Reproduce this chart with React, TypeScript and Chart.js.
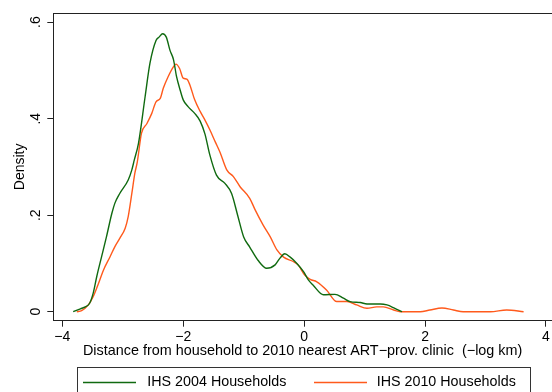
import React, { useEffect, useRef } from "react";
import { Chart, registerables } from "chart.js";

Chart.register(...registerables);

const FONT = '"Liberation Sans", Arial, Helvetica, sans-serif';

// IHS 2004 Households (green)
const x2004 = [
  -3.82, -3.7, -3.62, -3.55, -3.49, -3.43, -3.35, -3.27, -3.18, -3.13, -3.05, -2.91, -2.85, -2.81,
  -2.74, -2.63, -2.55, -2.45, -2.4, -2.34, -2.28, -2.22, -2.16, -2.11, -2.05, -2.0, -1.92, -1.81,
  -1.72, -1.64, -1.56, -1.45, -1.31, -1.2, -1.1, -1.0, -0.9, -0.76, -0.62, -0.48, -0.4, -0.32,
  -0.23, -0.12, -0.01, 0.07, 0.15, 0.32, 0.51, 0.65, 0.76, 0.93, 1.04, 1.26, 1.37, 1.5, 1.62,
];
const y2004 = [
  0, 0.006, 0.01, 0.017, 0.038, 0.073, 0.114, 0.155, 0.204, 0.225, 0.245, 0.273, 0.294, 0.314,
  0.349, 0.446, 0.515, 0.562, 0.569, 0.576, 0.569, 0.542, 0.522, 0.487, 0.459, 0.439, 0.425, 0.411,
  0.395, 0.368, 0.325, 0.283, 0.266, 0.245, 0.2, 0.155, 0.134, 0.106, 0.09, 0.097, 0.111, 0.12,
  0.113, 0.1, 0.083, 0.066, 0.055, 0.035, 0.036, 0.028, 0.021, 0.019, 0.016, 0.016, 0.014, 0.007, 0,
];

// IHS 2010 Households (orange)
const x2010 = [
  -3.76, -3.68, -3.57, -3.49, -3.4, -3.32, -3.21, -3.13, -3.05, -2.96, -2.91, -2.85, -2.8, -2.76,
  -2.69, -2.6, -2.52, -2.45, -2.38, -2.33, -2.25, -2.16, -2.12, -2.06, -2.0, -1.94, -1.89, -1.81,
  -1.72, -1.64, -1.56, -1.47, -1.39, -1.28, -1.17, -1.06, -0.9, -0.81, -0.68, -0.56, -0.45, -0.34,
  -0.18, -0.1, 0.01, 0.1, 0.21, 0.37, 0.54, 0.71, 0.87, 1.04, 1.2, 1.31, 1.48, 1.59, 1.92, 2.08,
  2.28, 2.47, 2.63, 3.08, 3.35, 3.63,
];
const y2010 = [
  0, 0.002, 0.014, 0.031, 0.059, 0.086, 0.114, 0.135, 0.152, 0.173, 0.197, 0.245, 0.287, 0.31,
  0.37, 0.39, 0.411, 0.435, 0.442, 0.463, 0.487, 0.508, 0.513, 0.504, 0.484, 0.482, 0.47, 0.439,
  0.415, 0.397, 0.377, 0.352, 0.33, 0.294, 0.28, 0.259, 0.235, 0.211, 0.18, 0.155, 0.128, 0.113,
  0.104, 0.097, 0.076, 0.067, 0.062, 0.045, 0.021, 0.021, 0.014, 0.007, 0.01, 0.01, 0.0035, 0, 0,
  0.0035, 0.0077, 0.0035, 0, 0, 0.0035, 0,
];

const xTicks = [-4, -2, 0, 2, 4];
const yTicks = [0, 0.2, 0.4, 0.6];
const yTickLabels = ["0", ".2", ".4", ".6"];
const seriesNames = ["IHS 2004 Households", "IHS 2010 Households"];
const xTitle = "Distance from household to 2010 nearest ART\u2212prov. clinic  (\u2212log km)";
const yTitle = "Density";

const GREEN = "#106a10";
const ORANGE = "#ff5a1c";

export default function App() {
  const ref = useRef<HTMLCanvasElement | null>(null);

  useEffect(() => {
    const canvas = ref.current;
    if (!canvas) return;

    const custom = {
      id: "stataDecor",
      afterDraw(chart: any) {
        const { ctx, chartArea, scales } = chart;
        const ys = scales.y;
        ctx.save();
        // top frame line
        ctx.strokeStyle = "#222";
        ctx.lineWidth = 1;
        ctx.beginPath();
        ctx.moveTo(chartArea.left, Math.round(chartArea.top) + 0.5);
        ctx.lineTo(chartArea.right + 2, Math.round(chartArea.top) + 0.5);
        ctx.stroke();

        // y tick labels (rotated)
        ctx.fillStyle = "#000";
        ctx.font = `14px ${FONT}`;
        yTicks.forEach((v, i) => {
          const py = ys.getPixelForValue(v);
          ctx.save();
          ctx.translate(40, py);
          ctx.rotate(-Math.PI / 2);
          ctx.textAlign = "center";
          ctx.textBaseline = "alphabetic";
          ctx.fillText(yTickLabels[i], 0, 0);
          ctx.restore();
        });
        // y title
        ctx.save();
        ctx.translate(23.5, (chartArea.top + chartArea.bottom) / 2);
        ctx.rotate(-Math.PI / 2);
        ctx.textAlign = "center";
        ctx.textBaseline = "alphabetic";
        ctx.fillText(yTitle, 0, 0);
        ctx.restore();

        // legend
        ctx.strokeStyle = "#333";
        ctx.lineWidth = 1;
        ctx.strokeRect(77.5, 367.5, 453, 40);
        const ly = 382.5;
        ctx.font = `14.3px ${FONT}`;
        const items = [
          { c: GREEN, x0: 83, x1: 136, tx: 147.3, name: seriesNames[0] },
          { c: ORANGE, x0: 314, x1: 367, tx: 376.7, name: seriesNames[1] },
        ];
        items.forEach((it) => {
          ctx.strokeStyle = it.c;
          ctx.lineWidth = 1.3;
          ctx.beginPath();
          ctx.moveTo(it.x0, ly);
          ctx.lineTo(it.x1, ly);
          ctx.stroke();
          ctx.fillStyle = "#000";
          ctx.textAlign = "left";
          ctx.textBaseline = "middle";
          ctx.fillText(it.name, it.tx, ly);
        });
        ctx.restore();
      },
    };

    const chart = new Chart(canvas, {
      type: "line",
      data: {
        datasets: [
          {
            label: seriesNames[0],
            data: x2004.map((x, i) => ({ x, y: y2004[i] })),
            borderColor: GREEN,
            borderWidth: 1.4,
            pointRadius: 0,
            cubicInterpolationMode: "monotone",
            fill: false,
          },
          {
            label: seriesNames[1],
            data: x2010.map((x, i) => ({ x, y: y2010[i] })),
            borderColor: ORANGE,
            borderWidth: 1.4,
            pointRadius: 0,
            cubicInterpolationMode: "monotone",
            fill: false,
          },
        ],
      },
      options: {
        responsive: false,
        animation: false,
        layout: { padding: { top: 13, left: 0, right: 0, bottom: 0 } },
        plugins: { legend: { display: false }, tooltip: { enabled: false } },
        scales: {
          x: {
            type: "linear",
            min: -4.149,
            max: 4.1,
            afterBuildTicks: (s: any) => {
              s.ticks = xTicks.map((v) => ({ value: v }));
            },
            afterFit: (s: any) => {
              s.height = 71.3;
              s.paddingLeft = 0;
              s.paddingRight = 0;
            },
            ticks: {
              autoSkip: false,
              maxRotation: 0,
              padding: 2,
              color: "#000",
              font: { family: FONT, size: 14 },
              callback: (v: any) => (v < 0 ? "\u2212" + Math.abs(v) : String(v)),
            },
            grid: { drawOnChartArea: false, drawTicks: true, tickLength: 6, color: "#222", tickWidth: 1 },
            border: { display: true, color: "#222", width: 1 },
            title: {
              display: true,
              text: xTitle,
              color: "#000",
              font: { family: FONT, size: 14.4 },
              padding: { top: 0, bottom: 32 },
            },
          },
          y: {
            type: "linear",
            min: -0.01865,
            max: 0.619,
            afterBuildTicks: (s: any) => {
              s.ticks = yTicks.map((v) => ({ value: v }));
            },
            afterFit: (s: any) => {
              s.width = 53.3;
            },
            ticks: { display: false },
            grid: { drawOnChartArea: false, drawTicks: true, tickLength: 6, color: "#222", tickWidth: 1 },
            border: { display: true, color: "#222", width: 1 },
          },
        },
      },
      plugins: [custom],
    } as any);

    return () => chart.destroy();
  }, []);

  return (
    <div style={{ position: "absolute", left: 0, top: 0, width: 552, height: 392, background: "#fff" }}>
      <canvas ref={ref} width={552} height={392} style={{ display: "block" }} />
    </div>
  );
}
